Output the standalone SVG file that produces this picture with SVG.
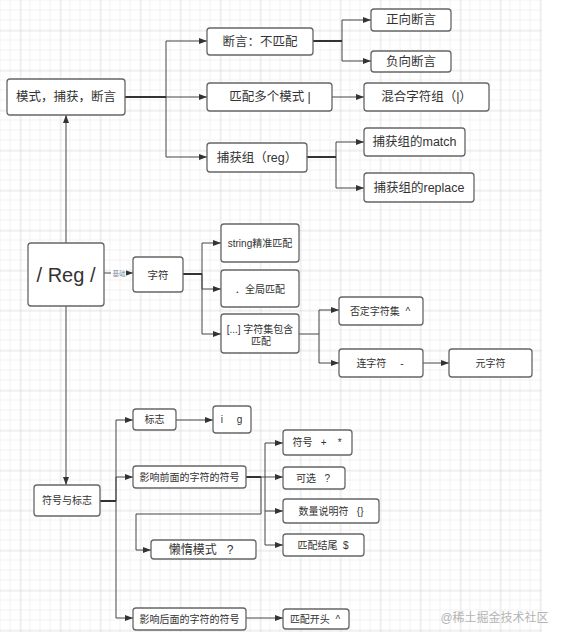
<svg xmlns="http://www.w3.org/2000/svg" width="565" height="642" viewBox="0 0 565 642">
<defs>
<pattern id="grid" width="10" height="10" patternUnits="userSpaceOnUse" x="0.5" y="0.5">
<path d="M10,0 V10 M0,10 H10" fill="none" stroke="#e4e4e4" stroke-width="1"/>
</pattern>
<pattern id="gridM" width="40" height="40" patternUnits="userSpaceOnUse" x="20.5" y="30.5">
<path d="M0,0 V40 M0,0 H40" fill="none" stroke="#d4d4d4" stroke-width="1"/>
</pattern>
<marker id="arr" viewBox="0 0 8 6" refX="8" refY="3" markerWidth="8" markerHeight="6" markerUnits="userSpaceOnUse" orient="auto">
<path d="M0,0 L8,3 L0,6 Z" fill="#333"/>
</marker>
<style>
.box{fill:#fff;stroke:#666;stroke-width:1.3}
.t{font-family:"Liberation Sans","Noto Sans CJK SC",sans-serif;fill:#333;text-anchor:middle;dominant-baseline:central}
.l{font-size:12.5px}
.s{font-size:10px}
.c{fill:none;stroke:#444;stroke-width:1}
.a{marker-end:url(#arr)}
.k{fill:none;stroke:#333;stroke-width:2}
</style>
</defs>
<rect width="565" height="642" fill="#fff"/>
<rect x="0" y="0" width="542" height="632" fill="url(#grid)"/>
<rect x="0" y="0" width="542" height="632" fill="url(#gridM)"/>

<g id="connectors">
<path class="c a" d="M125,97 H166 V41 H207"/>
<path class="c a" d="M125,97 H207"/>
<path class="c a" d="M166,97 V157 H207"/>
<path class="k" d="M125,97 H166"/>
<path class="c a" d="M313,41 H342 V20 H371"/>
<path class="c a" d="M342,41 V61 H371"/>
<path class="k" d="M313,41 H342"/>
<path class="c a" d="M332,97 H364"/>
<path class="c a" d="M307,157 H336 V142 H364"/>
<path class="c a" d="M336,157 V188 H364"/>
<path class="k" d="M307,157 H336"/>
<path class="c a" d="M66,243 V115"/>
<path class="c a" d="M104,273 H133"/>
<rect x="111" y="269" width="15" height="8" fill="#fff"/>
<text class="t" x="119" y="273.5" style="font-size:6.5px;fill:#7a8aa0">基础</text>
<path class="c a" d="M183,274 H202 V243 H221"/>
<path class="c a" d="M202,274 V289 H221"/>
<path class="c a" d="M202,274 V334 H221"/>
<path class="k" d="M183,274 H202"/>
<path class="c a" d="M299,334 H319 V310 H339"/>
<path class="c a" d="M319,334 V363 H339"/>
<path class="c a" d="M423,363 H449"/>
<path class="c a" d="M66,306 V485"/>
<path class="c a" d="M100,501 H116 V420 H133"/>
<path class="c a" d="M116,501 V477 H133"/>
<path class="c a" d="M116,501 V618 H133"/>
<path class="k" d="M100,501 H116"/>
<path class="c a" d="M176,420 H213"/>
<path class="c a" d="M246,477 H265 V443 H283"/>
<path class="c a" d="M265,477 H283"/>
<path class="c a" d="M265,477 V545 H283"/>
<path class="c a" d="M265,511 H283"/>
<path class="c a" d="M246,477 H261 V514 H136 V550 H151"/>
<path class="k" d="M246,477 H261"/>
<path class="c a" d="M246,618 H283"/>
</g>

<g id="n-main"><rect class="box" x="7" y="79" width="118" height="36" rx="3"/><text class="t l" x="66" y="97">模式，捕获，断言</text></g>
<g id="n-assert"><rect class="box" x="207" y="28" width="106" height="27" rx="3"/><text class="t l" x="260" y="41.5">断言：不匹配</text></g>
<g id="n-pos"><rect class="box" x="371" y="9" width="80" height="22" rx="3"/><text class="t l" x="411" y="20">正向断言</text></g>
<g id="n-neg"><rect class="box" x="371" y="51" width="80" height="21" rx="3"/><text class="t l" x="411" y="61.5">负向断言</text></g>
<g id="n-multi"><rect class="box" x="207" y="83" width="125" height="28" rx="3"/><text class="t l" x="270" y="97">匹配多个模式 |</text></g>
<g id="n-mix"><rect class="box" x="364" y="83" width="125" height="28" rx="3"/><text class="t l" x="426.5" y="97">混合字符组（|）</text></g>
<g id="n-cap"><rect class="box" x="207" y="143" width="100" height="29" rx="3"/><text class="t l" x="257" y="157.5">捕获组（reg）</text></g>
<g id="n-match"><rect class="box" x="364" y="128" width="101" height="28" rx="3"/><text class="t l" x="414.5" y="142">捕获组的match</text></g>
<g id="n-replace"><rect class="box" x="364" y="173" width="110" height="29" rx="3"/><text class="t l" x="419" y="187.5">捕获组的replace</text></g>

<g id="n-reg"><rect class="box" x="28" y="243" width="76" height="63" rx="3"/><text class="t" x="66" y="275" style="font-size:20px">/ Reg /</text></g>
<g id="n-char"><rect class="box" x="133" y="257" width="50" height="35" rx="3"/><text class="t" x="158" y="274.5" style="font-size:10.5px">字符</text></g>
<g id="n-string"><rect class="box" x="221" y="224" width="78" height="38" rx="3"/><text class="t s" x="260" y="243">string精准匹配</text></g>
<g id="n-global"><rect class="box" x="221" y="270" width="78" height="37" rx="3"/><text class="t s" x="260" y="289">．全局匹配</text></g>
<g id="n-set"><rect class="box" x="221" y="314" width="78" height="39" rx="3"/><text class="t s" x="260" y="329">[...] 字符集包含</text><text class="t s" x="261" y="341">匹配</text></g>
<g id="n-neg-set"><rect class="box" x="339" y="297" width="84" height="28" rx="3"/><text class="t s" x="380" y="311">否定字符集&#160;&#160;^</text></g>
<g id="n-hyphen"><rect class="box" x="339" y="349" width="84" height="28" rx="3"/><text class="t s" x="380" y="363">连字符&#160;&#160;&#160;&#160;&#160;-</text></g>
<g id="n-meta"><rect class="box" x="449" y="349" width="83" height="28" rx="3"/><text class="t s" x="490.5" y="363">元字符</text></g>

<g id="n-symflag"><rect class="box" x="34" y="485" width="66" height="31" rx="3"/><text class="t s" x="67" y="500.5">符号与标志</text></g>
<g id="n-flag"><rect class="box" x="133" y="409" width="43" height="21" rx="3"/><text class="t s" x="154.5" y="419.5">标志</text></g>
<g id="n-ig"><rect class="box" x="213" y="406" width="38" height="27" rx="3"/><text class="t s" x="231.5" y="419.5">i&#160;&#160;&#160;&#160;&#160;g</text></g>
<g id="n-before"><rect class="box" x="133" y="466" width="113" height="22" rx="3"/><text class="t s" x="189.5" y="477">影响前面的字符的符号</text></g>
<g id="n-plus"><rect class="box" x="283" y="430" width="69" height="25" rx="3"/><text class="t s" x="317" y="442.5">符号&#160;&#160;&#160;+&#160;&#160;&#160;&#160;*</text></g>
<g id="n-opt"><rect class="box" x="283" y="467" width="62" height="22" rx="3"/><text class="t s" x="313" y="478">可选&#160;&#160;&#160;?</text></g>
<g id="n-quant"><rect class="box" x="283" y="499" width="96" height="24" rx="3"/><text class="t s" x="331" y="511">数量说明符&#160;&#160;&#160;{}</text></g>
<g id="n-end"><rect class="box" x="283" y="534" width="81" height="22" rx="3"/><text class="t s" x="323" y="545">匹配结尾&#160;&#160;$</text></g>
<g id="n-lazy"><rect class="box" x="151" y="540" width="105" height="19" rx="3"/><text class="t" x="201" y="549.5" style="font-size:12px">懒惰模式&#160;&#160;&#160;?</text></g>
<g id="n-after"><rect class="box" x="133" y="608" width="113" height="22" rx="3"/><text class="t s" x="189.5" y="619">影响后面的字符的符号</text></g>
<g id="n-start"><rect class="box" x="283" y="609" width="66" height="20" rx="3"/><text class="t s" x="315" y="619">匹配开头&#160;&#160;^</text></g>

<text class="t" x="494.5" y="618" style="font-size:12px;fill:#b4b4b4">@稀土掘金技术社区</text>
</svg>
